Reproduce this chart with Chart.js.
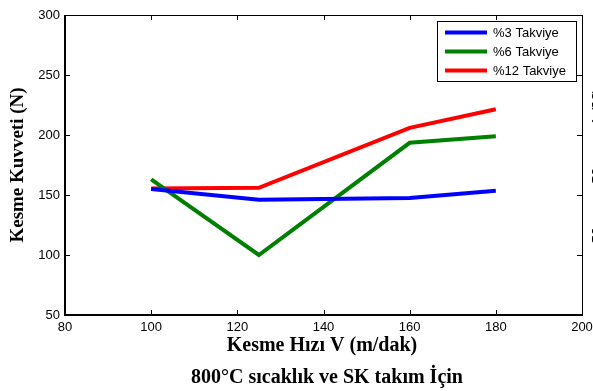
<!DOCTYPE html>
<html>
<head>
<meta charset="utf-8">
<script src="https://cdn.jsdelivr.net/npm/chart.js@4/dist/chart.umd.min.js"></script>
<style>
html,body{margin:0;padding:0;background:#fff;}
#wrap{width:593px;height:391px;}
</style>
</head>
<body>
<div id="wrap"><canvas id="c" width="593" height="391"></canvas></div>
<script>
const speeds = [100, 125, 160, 180];
const takviye3 = [155, 146, 147.5, 153.5];
const takviye6 = [163, 100, 193.5, 199];
const takviye12 = [155.5, 156, 206, 221.5];
const seriesLabels = ['%3 Takviye', '%6 Takviye', '%12 Takviye'];
const seriesColors = ['#0000ff', '#008000', '#ff0000'];
const xTicks = [80, 100, 120, 140, 160, 180, 200];
const yTicks = [50, 100, 150, 200, 250, 300];
const xTitle = 'Kesme Hızı V (m/dak)';
const yTitle = 'Kesme Kuvveti (N)';
const subTitle = '800°C sıcaklık ve SK takım İçin';

const serif = '"Liberation Serif", "Times New Roman", serif';
const sans = '"Liberation Sans", Arial, sans-serif';

const mk = (arr) => speeds.map((s, i) => ({x: s, y: arr[i]}));

const framePlugin = {
  id: 'framePlugin',
  afterDraw(chart) {
    const ctx = chart.ctx;
    const a = chart.chartArea;
    const xs = chart.scales.x, ys = chart.scales.y;
    ctx.save();
    // frame
    ctx.strokeStyle = '#000';
    ctx.lineWidth = 1;
    ctx.strokeRect(a.left + 0.5, a.top + 0.5, a.right - a.left, a.bottom - a.top);
    ctx.lineWidth = 2;
    ctx.beginPath();
    ctx.moveTo(a.left, a.bottom); ctx.lineTo(a.right + 1, a.bottom);
    ctx.moveTo(a.left, a.top); ctx.lineTo(a.left, a.bottom + 1);
    ctx.stroke();
    // inward ticks
    ctx.lineWidth = 1;
    ctx.beginPath();
    xTicks.forEach(v => {
      const px = Math.round(xs.getPixelForValue(v)) + 0.5;
      ctx.moveTo(px, a.bottom); ctx.lineTo(px, a.bottom - 5);
      ctx.moveTo(px, a.top); ctx.lineTo(px, a.top + 5);
    });
    yTicks.forEach(v => {
      const py = Math.round(ys.getPixelForValue(v)) + 0.5;
      ctx.moveTo(a.left, py); ctx.lineTo(a.left + 5, py);
      ctx.moveTo(a.right, py); ctx.lineTo(a.right - 5, py);
    });
    ctx.stroke();

    // legend
    const lx = 437, ly = 21, lw = 139, lh = 60;
    ctx.fillStyle = '#fff';
    ctx.fillRect(lx, ly, lw, lh);
    ctx.strokeStyle = '#000';
    ctx.lineWidth = 1;
    ctx.strokeRect(lx + 0.5, ly + 0.5, lw, lh);
    ctx.font = '13px ' + sans;
    ctx.textBaseline = 'middle';
    ctx.textAlign = 'left';
    chart.data.datasets.forEach((ds, i) => {
      const y = 32.5 + i * 19;
      ctx.strokeStyle = ds.borderColor;
      ctx.lineWidth = 4;
      ctx.beginPath();
      ctx.moveTo(445, y); ctx.lineTo(487, y);
      ctx.stroke();
      ctx.fillStyle = '#000';
      ctx.fillText(ds.label, 493, y + 0.5);
    });

    // titles
    ctx.fillStyle = '#000';
    ctx.font = 'bold 20px ' + serif;
    ctx.textAlign = 'center';
    ctx.textBaseline = 'middle';
    ctx.fillText(xTitle, 322, 346);
    ctx.fillText(subTitle, 327, 378);
    ctx.save();
    ctx.translate(18, (a.top + a.bottom) / 2);
    ctx.rotate(-Math.PI / 2);
    ctx.font = 'bold 19px ' + serif;
    ctx.fillText(yTitle, 0, 0);
    ctx.restore();
    // clipped neighbouring label at the right edge
    ctx.save();
    ctx.translate(600, (a.top + a.bottom) / 2);
    ctx.rotate(-Math.PI / 2);
    ctx.font = 'bold 19px ' + serif;
    ctx.fillText(yTitle, 0, 0);
    ctx.restore();
    ctx.restore();
  }
};

new Chart(document.getElementById('c'), {
  type: 'line',
  data: {
    datasets: [
      {label: seriesLabels[0], data: mk(takviye3), borderColor: seriesColors[0]},
      {label: seriesLabels[1], data: mk(takviye6), borderColor: seriesColors[1]},
      {label: seriesLabels[2], data: mk(takviye12), borderColor: seriesColors[2]}
    ].map(d => Object.assign(d, {borderWidth: 4, pointRadius: 0, tension: 0, fill: false, backgroundColor: d.borderColor}))
  },
  options: {
    responsive: false,
    animation: false,
    events: [],
    layout: {padding: {left: 0, right: 11, top: 15, bottom: 0}},
    plugins: {legend: {display: false}, tooltip: {enabled: false}, title: {display: false}},
    scales: {
      x: {
        type: 'linear', min: 80, max: 200,
        afterBuildTicks: s => { s.ticks = xTicks.map(v => ({value: v})); },
        afterFit: s => { s.height = 76; s.paddingLeft = 0; s.paddingRight = 0; },
        grid: {display: false, drawTicks: false},
        border: {display: false},
        ticks: {font: {family: sans, size: 13}, color: '#000', padding: 5, maxRotation: 0, autoSkip: false}
      },
      y: {
        type: 'linear', min: 50, max: 300,
        afterBuildTicks: s => { s.ticks = yTicks.map(v => ({value: v})); },
        afterFit: s => { s.width = 65; s.paddingTop = 0; s.paddingBottom = 0; },
        grid: {display: false, drawTicks: false},
        border: {display: false},
        ticks: {font: {family: sans, size: 13}, color: '#000', padding: 5, autoSkip: false}
      }
    }
  },
  plugins: [framePlugin]
});
</script>
</body>
</html>
